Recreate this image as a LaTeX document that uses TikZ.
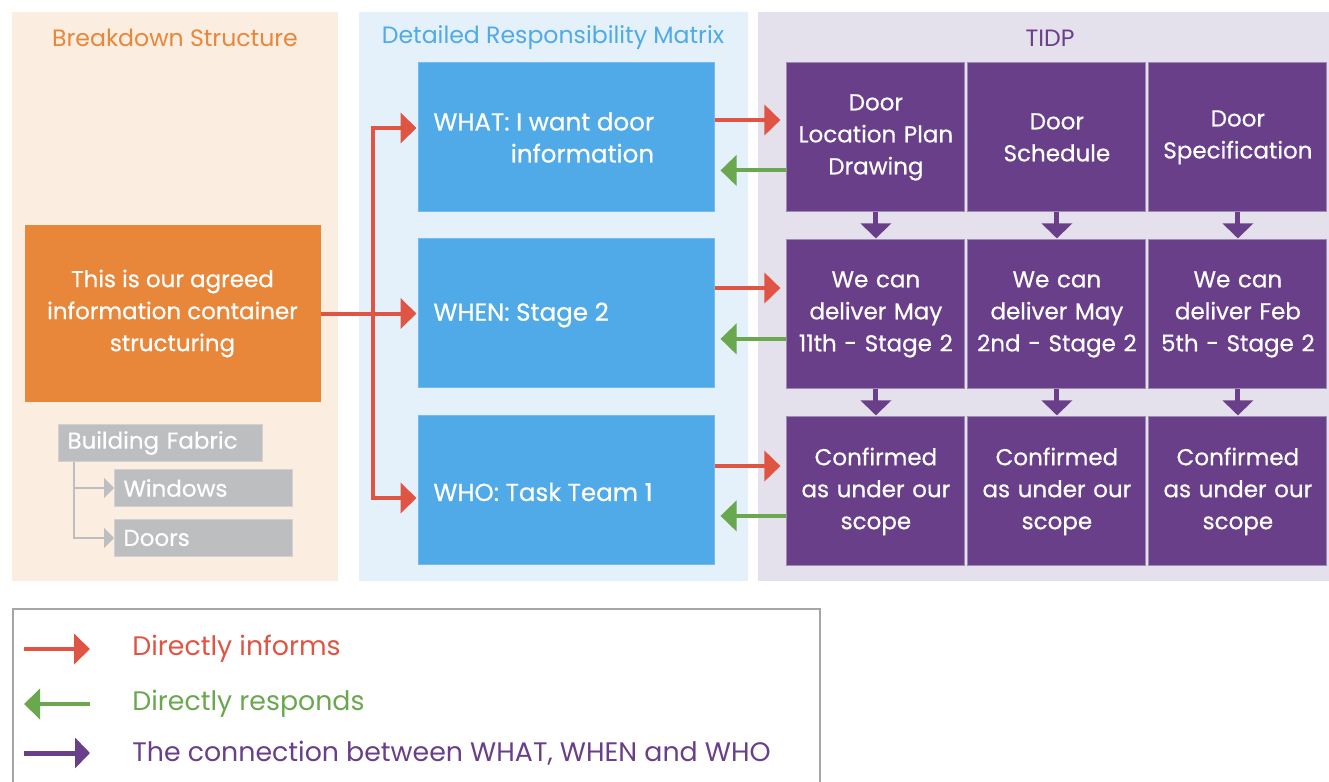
\documentclass[tikz,border=0pt]{standalone}
\usepackage{fontspec}
\setmainfont{Poppins}
\newfontfamily\boxfamily{Poppins}[FakeBold=0.6]
\usepackage{tikz}
\usetikzlibrary{matrix,arrows.meta}

\definecolor{peach}{HTML}{FCEDE1}
\definecolor{skyback}{HTML}{E4F1FB}
\definecolor{lilac}{HTML}{E5E1EC}
\definecolor{orangebox}{HTML}{E8873A}
\definecolor{bluebox}{HTML}{4FAAE7}
\definecolor{tidpbox}{HTML}{6A3F8A}
\definecolor{tidpedge}{HTML}{9F8AB5}
\definecolor{informs}{HTML}{E05444}
\definecolor{responds}{HTML}{6AA84F}
\definecolor{greybox}{HTML}{BDBEC0}
\definecolor{legendline}{HTML}{A6A6A6}

\newcommand{\boxfont}{\boxfamily\fontsize{11.5}{16}\selectfont}

\begin{document}
\begin{tikzpicture}[x=0.5pt,y=-0.5pt,
	title/.style={font=\fontsize{11.8}{14}\selectfont},
	box/.style={rectangle,inner sep=0pt,text=white,font=\boxfont},
	bsbox/.style={box,fill=orangebox,minimum width=148pt,minimum height=88.5pt,align=center},
	drmbox/.style={box,fill=bluebox,draw=bluebox!80!white,line width=0.5pt,minimum width=148pt,minimum height=74.5pt},
	treebox/.style={box,fill=greybox,draw=greybox!70!white,line width=0.5pt,minimum height=18.5pt,text width=#1,inner xsep=4.5pt,align=left},
	inform/.style={draw=informs,line width=2pt,-{Triangle[length=8pt,width=15pt]}},
	respond/.style={draw=responds,line width=2pt,-{Triangle[length=8pt,width=15pt]}},
	connect/.style={draw=tidpbox,line width=2.5pt,-{Triangle[length=7.5pt,width=15pt]}},
	tree/.style={draw=greybox,line width=1pt,-{Triangle[length=5pt,width=10pt]}},
	legtext/.style={anchor=west,inner sep=0pt,font=\fontsize{13.4}{15}\selectfont},
	]
	\useasboundingbox (0,0) rectangle (1329,782);

	% panels
	\fill[peach] (12,12) rectangle (338,581);
	\fill[skyback] (359,12) rectangle (748,581);
	\fill[lilac] (758,12) rectangle (1329,581);
	\node[title,text=orangebox] (bstitle) at (175,38) {Breakdown Structure};
	\node[title,text=bluebox] (drmtitle) at (553,38) {Detailed Responsibility Matrix};
	\node[title,text=tidpbox] (tidptitle) at (1050,38) {TIDP};

	% breakdown structure
	\node[bsbox] (agreed) at (172.5,313.5) {This is our agreed\\information container\\structuring};
	\node[treebox=93pt,anchor=north west] (fabric) at (58,424) {Building Fabric};
	\node[treebox=80pt,anchor=north west] (windows) at (114,469) {Windows};
	\node[treebox=80pt,anchor=north west] (doors) at (114,519) {Doors};
	\draw[tree] ([xshift=8pt]fabric.south west) |- (windows.west);
	\draw[tree] ([xshift=8pt]fabric.south west) |- (doors.west);

	% responsibility matrix
	\node[drmbox] (what) at (566,136.5) {};
	\node[drmbox] (when) at (566,312.5) {};
	\node[drmbox] (who) at (566,489.5) {};
	\node[box,anchor=west,align=right,font=\boxfamily\fontsize{12.3}{16}\selectfont] (whattext) at (433,137.5) {WHAT: I want door\\information};
	\node[box,anchor=west,font=\boxfamily\fontsize{12.3}{16}\selectfont] (whentext) at (433,315) {WHEN: Stage 2};
	\node[box,anchor=west,font=\boxfamily\fontsize{12.3}{16}\selectfont] (whotext) at (433,492) {WHO: Task Team 1};

	% TIDP
	\matrix [matrix of nodes,anchor=north west,inner sep=0pt,
	column sep=1pt,row sep=13.5pt,
	nodes={box,anchor=center,fill=tidpbox,draw=tidpedge,line width=0.5pt,
	minimum width=89pt,minimum height=74.5pt,text width=86pt,align=center},
	] (tidp) at (786,62)
	{
	{Door\\Location Plan\\Drawing} & {Door\\Schedule} & {Door\\Specification}\\
	{We can\\deliver May\\11th - Stage 2} & {We can\\deliver May\\2nd - Stage 2} & {We can\\deliver Feb\\5th - Stage 2}\\
	{Confirmed\\as under our\\scope} & {Confirmed\\as under our\\scope} & {Confirmed\\as under our\\scope}\\
	};

	% connectors
	\coordinate (fork) at (373,313.5);
	\draw[inform,shorten >=0.5pt] (agreed.east) -- (agreed.east -| when.west);
	\draw[inform,shorten >=0.5pt] (fork) |- ([yshift=4.25pt]what.west);
	\draw[inform,shorten >=0.5pt] (fork) |- ([yshift=-4.25pt]who.west);

	\draw[inform,shorten >=3pt] ([yshift=8.25pt]what.east) -- ([yshift=8.25pt]what.east -| tidp-1-1.west);
	\draw[respond,shorten >=3pt] ([yshift=-16.5pt]tidp-1-1.west) -- ([yshift=-16.5pt]tidp-1-1.west -| what.east);
	\draw[inform,shorten >=3pt] ([yshift=12.25pt]when.east) -- ([yshift=12.25pt]when.east -| tidp-2-1.west);
	\draw[respond,shorten >=3pt] ([yshift=-12.25pt]tidp-2-1.west) -- ([yshift=-12.25pt]tidp-2-1.west -| when.east);
	\draw[inform,shorten >=3pt] ([yshift=11.75pt]who.east) -- ([yshift=11.75pt]who.east -| tidp-3-1.west);
	\draw[respond,shorten >=3pt] ([yshift=-12.25pt]tidp-3-1.west) -- ([yshift=-12.25pt]tidp-3-1.west -| who.east);

	\foreach \c in {1,2,3}
	\foreach \r/\n in {1/2,2/3}
	\draw[connect,shorten >=0.5pt] (tidp-\r-\c) -- (tidp-\n-\c);

	% legend
	\draw[legendline,line width=0.6pt] (13,609) rectangle (820,800);
	\node[legtext,text=informs] (leginform) at (132,649) {Directly informs};
	\node[legtext,text=responds] (legrespond) at (132,704) {Directly responds};
	\node[legtext,text=tidpbox] (legconnect) at (132,753) {The connection between WHAT, WHEN and WHO};
	\coordinate (leginformstart) at (24,649);
	\coordinate (legrespondstart) at (90,704);
	\coordinate (legconnectstart) at (24,753);
	\draw[inform] (leginformstart) -- ([xshift=-21pt]leginform.west);
	\draw[respond] (legrespondstart) -- ([xshift=-54pt]legrespond.west);
	\draw[connect] (legconnectstart) -- ([xshift=-21pt]legconnect.west);
\end{tikzpicture}
\end{document}
